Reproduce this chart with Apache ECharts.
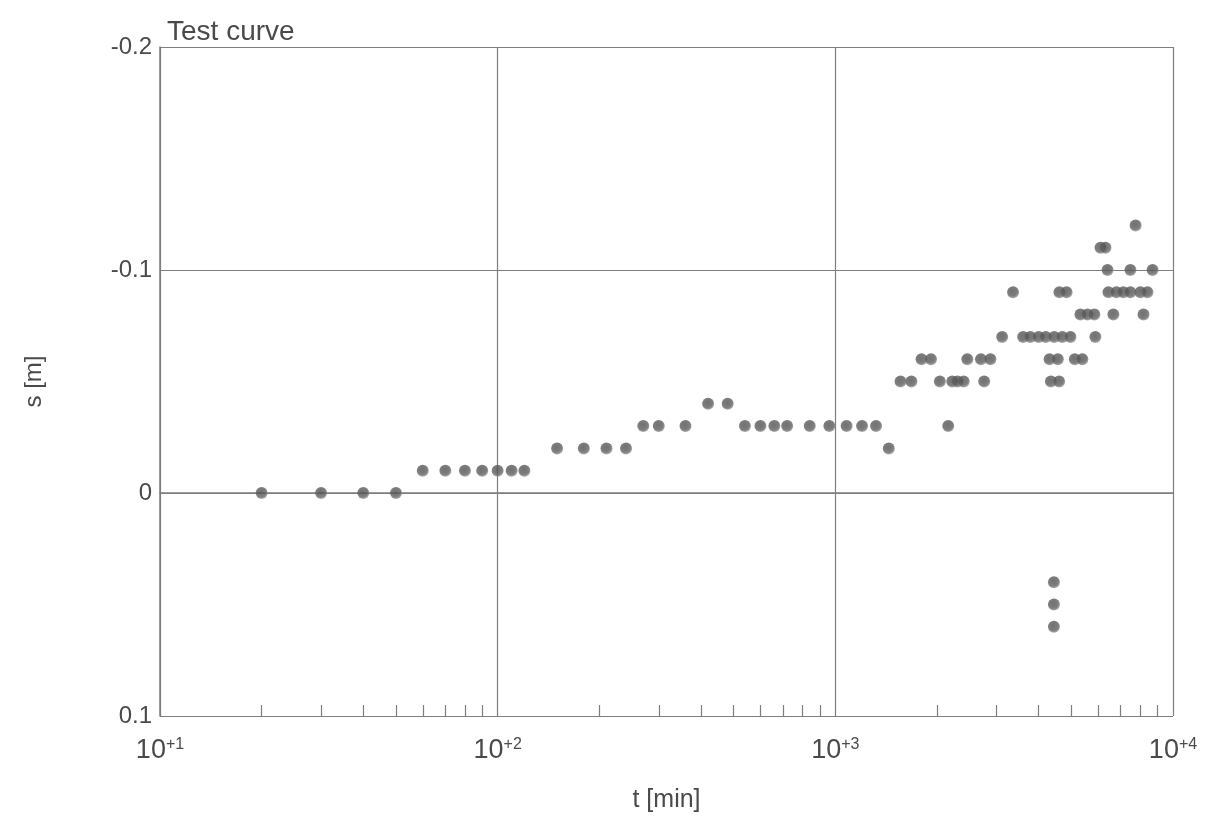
<!DOCTYPE html>
<html>
<head>
<meta charset="utf-8">
<script src="https://cdn.jsdelivr.net/npm/echarts@6/dist/echarts.min.js"></script>
<style>
html,body{margin:0;padding:0;background:#fff;}
#chart{width:1205px;height:818px;}
</style>
</head>
<body>
<div id="chart"></div>
<script>
// time since start of test [min]
const times = [
  20, 30, 40, 50,
  60, 70, 80, 90, 100, 110, 120,
  150, 180, 210, 240,
  270, 300, 360,
  420, 480,
  540, 600, 660, 720, 840, 960, 1080, 1200, 1320,
  1440,
  1560, 1680,
  1800, 1920,
  2040, 2220, 2300, 2400,
  2160,
  2460, 2700, 2880,
  2760,
  3120,
  3360,
  3600, 3780, 4000, 4200, 4450, 4700, 4970,
  4440, 4440, 4440,
  4350, 4600,
  4310, 4560, 5120, 5390,
  4610, 4840,
  5890,
  5320, 5580, 5850, 6660, 8180,
  6440, 6800, 7130, 7480, 8010, 8400,
  6400, 7480, 8700,
  6100, 6310,
  7750
];
// drawdown s [m]
const drawdowns = [
  0, 0, 0, 0,
  -0.01, -0.01, -0.01, -0.01, -0.01, -0.01, -0.01,
  -0.02, -0.02, -0.02, -0.02,
  -0.03, -0.03, -0.03,
  -0.04, -0.04,
  -0.03, -0.03, -0.03, -0.03, -0.03, -0.03, -0.03, -0.03, -0.03,
  -0.02,
  -0.05, -0.05,
  -0.06, -0.06,
  -0.05, -0.05, -0.05, -0.05,
  -0.03,
  -0.06, -0.06, -0.06,
  -0.05,
  -0.07,
  -0.09,
  -0.07, -0.07, -0.07, -0.07, -0.07, -0.07, -0.07,
  0.04, 0.05, 0.06,
  -0.05, -0.05,
  -0.06, -0.06, -0.06, -0.06,
  -0.09, -0.09,
  -0.07,
  -0.08, -0.08, -0.08, -0.08, -0.08,
  -0.09, -0.09, -0.09, -0.09, -0.09, -0.09,
  -0.10, -0.10, -0.10,
  -0.11, -0.11,
  -0.12
];
const xMajorTicks = [10, 100, 1000, 10000];
const xMinorTicks = [20,30,40,50,60,70,80,90,200,300,400,500,600,700,800,900,2000,3000,4000,5000,6000,7000,8000,9000];
const yTicks = [-0.2, -0.1, 0, 0.1];

const points = times.map((t, i) => [t, drawdowns[i]]);
const textColor = '#4a4a4a';
const lineColor = '#7e7e7e';
const fontFam = '"Liberation Sans", Arial, sans-serif';

const chart = echarts.init(document.getElementById('chart'));
chart.setOption({
  backgroundColor: '#ffffff',
  animation: false,
  title: {
    text: 'Test curve',
    left: 162, top: 13,
    textStyle: {fontSize: 28, fontWeight: 'normal', color: textColor, fontFamily: fontFam}
  },
  grid: {left: 160, right: 32, top: 47, bottom: 98},
  xAxis: [{
    type: 'log', logBase: 10, min: 10, max: 10000,
    name: 't [min]', nameLocation: 'middle', nameGap: 72,
    nameTextStyle: {fontSize: 25, color: textColor, fontFamily: fontFam},
    axisLine: {show: true, lineStyle: {color: lineColor, width: 1.5}},
    axisTick: {show: false},
    splitLine: {show: true, lineStyle: {color: lineColor, width: 1.2}},
    axisLabel: {
      margin: 21,
      customValues: xMajorTicks,
      formatter: v => '{b|10}{s|+' + Math.round(Math.log10(v)) + '}',
      rich: {
        b: {fontSize: 27, color: textColor, fontFamily: fontFam},
        s: {fontSize: 16, color: textColor, fontFamily: fontFam, verticalAlign: 'top', padding: [0,0,10,0]}
      }
    }
  }, {
    type: 'log', logBase: 10, min: 10, max: 10000, position: 'bottom',
    axisLine: {show: false},
    axisLabel: {show: false},
    splitLine: {show: false},
    axisTick: {show: true, inside: true, length: 11, customValues: xMinorTicks,
               lineStyle: {color: lineColor, width: 1.2}}
  }],
  yAxis: {
    type: 'value', inverse: true, min: -0.2, max: 0.1, interval: 0.1,
    name: 's [m]', nameLocation: 'middle', nameGap: 114, nameRotate: 90,
    nameTextStyle: {fontSize: 24, color: textColor, fontFamily: fontFam},
    axisLine: {show: true, lineStyle: {color: lineColor, width: 1.5}},
    axisTick: {show: false},
    splitLine: {show: true, lineStyle: {color: lineColor, width: 1.2}},
    axisLabel: {
      margin: 8, fontSize: 24, color: textColor, fontFamily: fontFam,
      customValues: yTicks,
      formatter: v => {
        const r = Math.round(v * 10) / 10;
        return r === 0 ? '0' : String(r);
      }
    }
  },
  series: [{
    type: 'scatter',
    xAxisIndex: 0,
    data: points,
    symbol: 'circle',
    symbolSize: 12,
    itemStyle: {
      color: {
        type: 'radial', x: 0.45, y: 0.4, r: 0.6,
        colorStops: [{offset: 0, color: '#4e4e4e'}, {offset: 0.7, color: '#5e5e5e'}, {offset: 1, color: '#9a9a9a'}]
      }
    }
  }]
});
</script>
</body>
</html>
